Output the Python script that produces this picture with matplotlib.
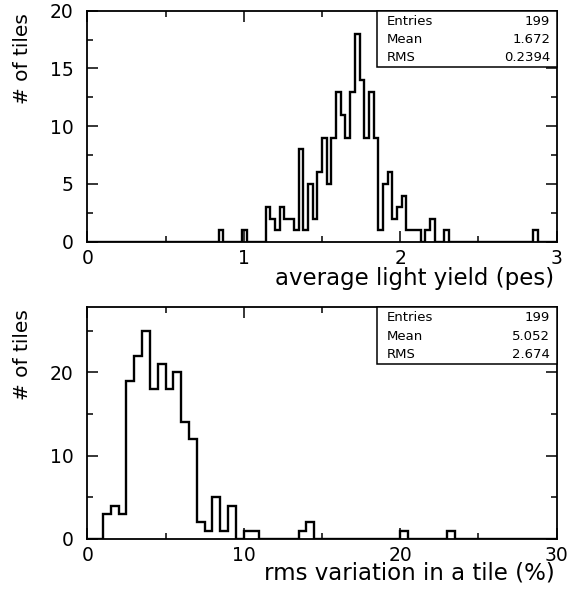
import numpy as np
import matplotlib.pyplot as plt
from matplotlib.patches import Rectangle
from matplotlib.ticker import MultipleLocator

# light yield histogram: 100 bins from 0 to 3 pes
ly_lo, ly_hi = 0.0, 3.0
ly_counts = [0] * 28 + [1, 0, 0, 0, 0, 1, 0, 0, 0, 0,
             3, 2, 1, 3, 2, 2, 1, 8, 1, 5, 2, 6, 9, 5, 9, 13, 11, 9, 13, 18,
             14, 9, 13, 9, 1, 5, 6, 2, 3, 4, 1, 1, 1, 0, 1, 2, 0, 0, 1] + \
            [0] * 18 + [1, 0, 0, 0, 0]
ly_stats = [('Entries', '199'), ('Mean', '1.672'), ('RMS', '0.2394')]

# rms variation histogram: 60 bins from 0 to 30 %
rms_lo, rms_hi = 0.0, 30.0
rms_counts = [0, 0, 3, 4, 3, 19, 22, 25, 18, 21, 18, 20, 14, 12, 2, 1, 5, 1,
              4, 0, 1, 1, 0, 0, 0, 0, 0, 1, 2, 0, 0, 0, 0, 0, 0, 0, 0, 0, 0,
              0, 1, 0, 0, 0, 0, 0, 1] + [0] * 13
rms_stats = [('Entries', '199'), ('Mean', '5.052'), ('RMS', '2.674')]

plt.rcParams['font.family'] = 'DejaVu Sans'

fig = plt.figure(figsize=(5.77, 5.89), dpi=100)
ax1 = fig.add_axes([0.1513, 0.5896, 0.8135, 0.3922])
ax2 = fig.add_axes([0.1513, 0.0849, 0.8135, 0.3934])


def draw_hist(ax, counts, lo, hi, ytop, xmaj, xmin, ymaj, ymin, xlabel, xlab_y,
              stats):
    edges = np.linspace(lo, hi, len(counts) + 1)
    ax.stairs(counts, edges, color='black', linewidth=1.7, baseline=0)
    ax.set_xlim(lo, hi)
    ax.set_ylim(0, ytop)
    ax.xaxis.set_major_locator(MultipleLocator(xmaj))
    ax.xaxis.set_minor_locator(MultipleLocator(xmin))
    ax.yaxis.set_major_locator(MultipleLocator(ymaj))
    ax.yaxis.set_minor_locator(MultipleLocator(ymin))
    ax.tick_params(which='both', direction='in', top=True, right=True,
                   width=1.1, labelsize=13.5)
    ax.tick_params(which='major', length=8)
    ax.tick_params(which='minor', length=4)
    ax.tick_params(axis='x', pad=5)
    ax.tick_params(axis='y', pad=10)
    for s in ax.spines.values():
        s.set_linewidth(1.3)
    ax.text(0.995, xlab_y, xlabel, transform=ax.transAxes, ha='right',
            va='center', fontsize=16.5)
    ax.text(-0.139, 0.99, '# of tiles', transform=ax.transAxes, ha='center',
            va='top', rotation=90, fontsize=14.5)
    # stats box
    ax.add_patch(Rectangle((0.618, 0.757), 0.382, 0.243, transform=ax.transAxes,
                           facecolor='white', edgecolor='black', linewidth=1.1,
                           zorder=5, clip_on=False))
    for k, (name, val) in enumerate(stats):
        y = 0.955 - k * 0.079
        ax.text(0.638, y, name, transform=ax.transAxes, ha='left', va='center',
                fontsize=9.5, zorder=6)
        ax.text(0.986, y, val, transform=ax.transAxes, ha='right', va='center',
                fontsize=9.5, zorder=6)


draw_hist(ax1, ly_counts, ly_lo, ly_hi, 20, 1, 0.5, 5, 2.5,
          'average light yield (pes)', -0.16, ly_stats)
draw_hist(ax2, rms_counts, rms_lo, rms_hi, 27.8, 10, 5, 10, 5,
          'rms variation in a tile (%)', -0.147, rms_stats)

fig.savefig('out.png', dpi=100)
